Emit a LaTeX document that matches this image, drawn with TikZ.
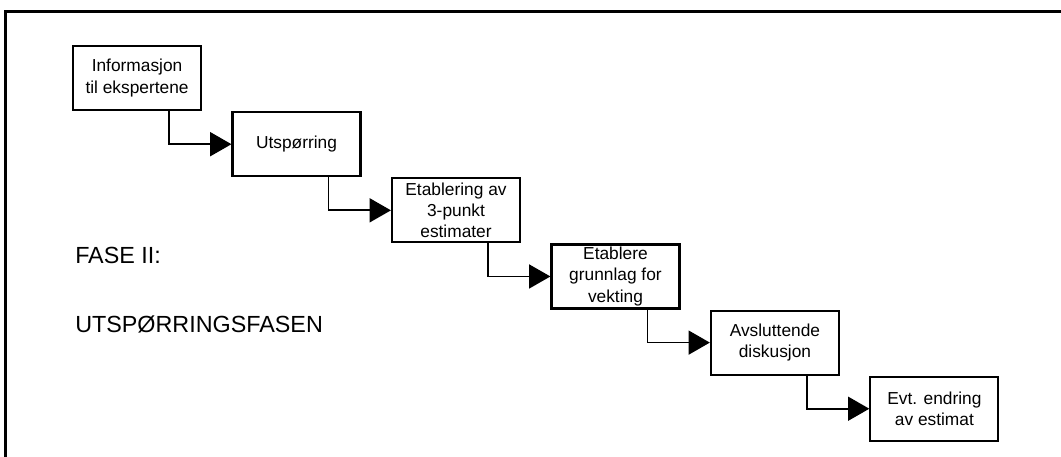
\documentclass[tikz,border=0pt]{standalone}
\usepackage{fontspec}
\setmainfont{Liberation Sans}
\usetikzlibrary{arrows.meta,positioning}

\begin{document}
\begin{tikzpicture}[x=0.75pt, y=-0.75pt,
  boks/.style={rectangle, draw=black, line width=1.6pt, fill=white,
    minimum height=48pt, minimum width=96pt, inner sep=0pt, align=center,
    font=\fontsize{13}{16}\selectfont},
  pil/.style={-{Triangle[length=16pt, width=18pt]}, line width=1.3pt},
  tittel/.style={anchor=base west, inner sep=0pt, font=\fontsize{17.5}{20}\selectfont},
  ramme/.style={line width=2.25pt},
]
  \useasboundingbox (0,0) rectangle (1061,457);
  \draw[ramme] (1061,11) -| (5,457);

  \node[boks, anchor=north west] (info) at (72,45) {Informasjon\\til ekspertene};
  \node[boks, below right=0pt and 22pt of info]  (utsp)  {Utspørring};
  \node[boks, below right=0pt and 22pt of utsp]  (estim) {Etablering av\\3-punkt\\estimater};
  \node[boks, below right=0pt and 22pt of estim] (vekt)  {Etablere\\grunnlag for\\vekting};
  \node[boks, below right=0pt and 22pt of vekt]  (disk)  {Avsluttende\\diskusjon};
  \node[boks, below right=0pt and 22pt of disk]  (endr)  {Evt. endring\\av estimat};

  \draw[pil] ([xshift=24pt]info.south)  |- (utsp.west);
  \draw[pil] ([xshift=24pt]utsp.south)  |- (estim.west);
  \draw[pil] ([xshift=24pt]estim.south) |- (vekt.west);
  \draw[pil] ([xshift=24pt]vekt.south)  |- (disk.west);
  \draw[pil] ([xshift=24pt]disk.south)  |- (endr.west);

  \node[tittel] (fase) at (75,263) {FASE II:};
  \node[tittel] (navn) at (75,332) {UTSPØRRINGSFASEN};
\end{tikzpicture}
\end{document}
